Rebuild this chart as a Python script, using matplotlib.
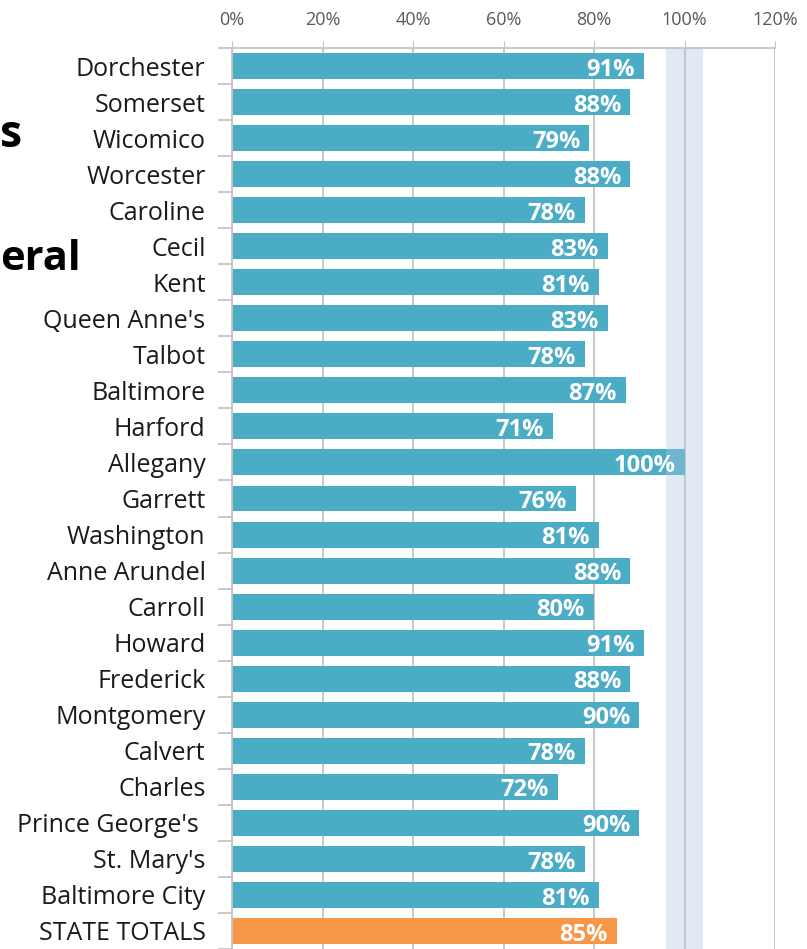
import numpy as np
import matplotlib
matplotlib.use("Agg")
import matplotlib.pyplot as plt
from matplotlib.ticker import FuncFormatter

plt.rcParams['font.family'] = ['Open Sans', 'DejaVu Sans']

counties = ["Dorchester", "Somerset", "Wicomico", "Worcester", "Caroline", "Cecil",
            "Kent", "Queen Anne's", "Talbot", "Baltimore", "Harford", "Allegany",
            "Garrett", "Washington", "Anne Arundel", "Carroll", "Howard", "Frederick",
            "Montgomery", "Calvert", "Charles", "Prince George's ", "St. Mary's",
            "Baltimore City", "STATE TOTALS"]
rates = [91, 88, 79, 88, 78, 83, 81, 83, 78, 87, 71, 100, 76, 81, 88, 80, 91, 88,
         90, 78, 72, 90, 78, 81, 85]
target_band = (96, 104)

TEAL = "#4BACC6"
ORANGE = "#F79646"
GRID = "#C4C4C4"

W, H = 807, 949
fig = plt.figure(figsize=(W / 100, H / 100), dpi=100)
ax = fig.add_axes([232 / W, 0, (775 - 232) / W, (949 - 48) / H])

y = np.arange(len(counties))
colors = [TEAL] * (len(counties) - 1) + [ORANGE]
ax.barh(y, rates, height=0.72, color=colors, zorder=2)

# shaded target band sits over the bars, see-through
ax.axvspan(*target_band, color="#AEC5E0", alpha=0.36, lw=0, zorder=3)

for yi, v in zip(y, rates):
    ax.text(v - 2.0, yi + 0.1, f"{v}%", ha="right", va="center", color="white",
            fontsize=17, fontweight="bold", zorder=4)

ax.set_xlim(0, 120)
ax.set_ylim(len(counties) - 0.5, -0.5)
ax.set_xticks(np.arange(0, 121, 20))
ax.xaxis.set_major_formatter(FuncFormatter(lambda v, p: f"{v:.0f}%"))
ax.xaxis.tick_top()
ax.tick_params(axis="x", length=5, color=GRID, labelsize=13, labelcolor="#595959", pad=9)
ax.grid(axis="x", color=GRID, lw=1.3, zorder=0)
ax.set_axisbelow(True)

ax.set_yticks(y)
ax.set_yticklabels(counties, fontsize=18, color="#1a1a1a")
ax.set_yticks(np.arange(-0.5, len(counties), 1), minor=True)
ax.tick_params(axis="y", which="major", length=0, pad=19)
ax.tick_params(axis="y", which="minor", length=10, color=GRID, width=1.3)

for side in ("right", "bottom"):
    ax.spines[side].set_visible(False)
for side in ("left", "top"):
    ax.spines[side].set_color(GRID)
    ax.spines[side].set_linewidth(1.3)

# title pieces showing at the left edge
fig.text(0, 1 - 147 / H, "s", ha="left", va="baseline", fontsize=32,
         fontweight="bold", color="black")
fig.text(0, 1 - 270 / H, "eral", ha="left", va="baseline", fontsize=30,
         fontweight="bold", color="black")

fig.savefig("out.png", dpi=100)
